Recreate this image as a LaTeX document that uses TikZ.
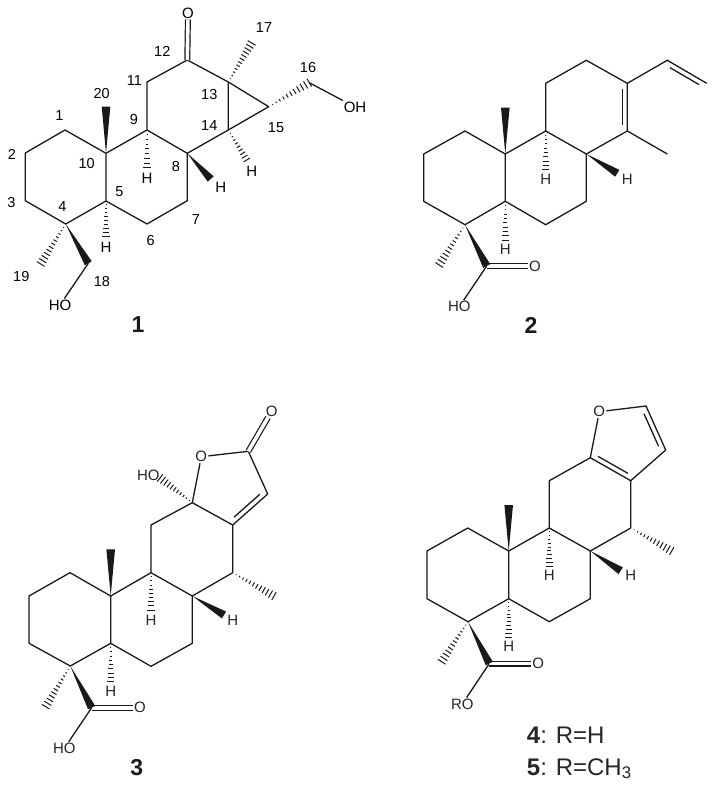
\documentclass[tikz,border=0pt]{standalone}
\usepackage{fontspec}
\setmainfont{Liberation Sans}
\usetikzlibrary{calc, positioning}

% solid and hashed stereo bonds, from atom #1 to atom #2 with half width #3
\newcommand{\wedgebond}[3]{%
    \fill[black!90] (#1) -- ($(#2)!#3 pt!90:(#1)$) -- ($(#2)!#3 pt!-90:(#1)$) -- cycle;}
\newcommand{\hashbond}[4]{%
    \path ($(#2)!#3 pt!90:(#1)$) coordinate (hl) ($(#2)!#3 pt!-90:(#1)$) coordinate (hr);
    \foreach \i in {1,...,#4} {
        \pgfmathsetmacro{\t}{\i/#4}
        \draw[hash] ($(#1)!\t!(hl)$) -- ($(#1)!\t!(hr)$);
    }}
% shorter second line of a ring double bond, #3 is the side (90 or -90)
\newcommand{\innerbond}[3]{%
    \draw[bond] ($(#1)!0.13!(#2)!5pt!#3:(#2)$) -- ($(#2)!0.13!(#1)!5pt!-#3:(#1)$);}

\begin{document}
\begin{tikzpicture}[x=1pt, y=-1pt]

    % Define styles for the bonds and the labels
    \tikzstyle{bond} = [draw=black!90, line width=1.3pt, line join=round]
    \tikzstyle{hash} = [draw=black!90, line width=1pt]
    \tikzstyle{dbl} = [draw=black!90, line width=1.2pt, double, double distance=3.6pt]
    \tikzstyle{atom} = [inner sep=1pt, font=\fontsize{15}{15}\selectfont, text=black!85]
    \tikzstyle{num} = [inner sep=0pt, font=\fontsize{14.5}{15}\selectfont, text=black]
    \tikzstyle{title} = [inner sep=0pt, font=\fontsize{23}{23}\selectfont\bfseries, text=black!90]
    \tikzstyle{legend} = [inner sep=0pt, anchor=base west, font=\fontsize{24}{24}\selectfont, text=black!85]

    \useasboundingbox (0,0) rectangle (714,786);

    % compound 1
    \coordinate (ac1) at (65,130);
    \coordinate (ac2) at (25.3,153);
    \coordinate (ac3) at (25.3,200.7);
    \coordinate (ac4) at (65.7,224);
    \coordinate (ac5) at (106,201);
    \coordinate (ac6) at (147,224);
    \coordinate (ac7) at (187.3,200.7);
    \coordinate (ac8) at (187.3,153.3);
    \coordinate (ac9) at (147,130);
    \coordinate (ac10) at (106,153.3);
    \coordinate (ac11) at (147,82);
    \coordinate (ac12) at (187.3,60);
    \coordinate (ac13) at (228.3,82);
    \coordinate (ac14) at (228.3,130);
    \coordinate (ac15) at (268.7,106.7);
    \coordinate (ac16) at (309.3,82.7);
    \coordinate (ac17) at (251.7,43);
    \coordinate (ac18) at (88.3,263.3);
    \coordinate (ac19) at (40.7,264);
    \coordinate (ac20) at (106,106.7);
    \coordinate (ah5) at (106,236);
    \coordinate (ah8) at (210.7,179);
    \coordinate (ah9) at (147,168);
    \coordinate (ah14) at (246.7,160);

    \node (ao) [atom, text=black] at (188,13) {O};
    \node (aoh) [atom, text=black] at (355,107) {OH};
    \node (aho) [atom, text=black] at (60,305) {HO};
    \node (ahl5) [atom, text=black] at (106,247) {H};
    \node (ahl8) [atom, text=black] at (220.7,187) {H};
    \node (ahl9) [atom, text=black] at (147,178) {H};
    \node (ahl14) [atom, text=black] at (251.7,171) {H};
    \node (atitle) [title] at (138,325) {1};

    \node (an1) [num] at (59.3,115.7) {1};
    \node (an2) [num] at (12,154) {2};
    \node (an3) [num] at (11.3,202.7) {3};
    \node (an4) [num] at (62.3,206.7) {4};
    \node (an5) [num] at (119.3,191.7) {5};
    \node (an6) [num] at (150.7,240.7) {6};
    \node (an7) [num] at (196,220) {7};
    \node (an8) [num] at (176,166.7) {8};
    \node (an9) [num] at (134,120) {9};
    \node (an10) [num] at (86.7,163.3) {10};
    \node (an11) [num] at (134.3,80.7) {11};
    \node (an12) [num] at (162.3,51.7) {12};
    \node (an13) [num] at (209.3,94.3) {13};
    \node (an14) [num] at (209.3,126) {14};
    \node (an15) [num] at (276,127.7) {15};
    \node (an16) [num] at (308,67.3) {16};
    \node (an17) [num] at (264,27.3) {17};
    \node (an18) [num] at (102,281.7) {18};
    \node (an19) [num] at (21.3,276.7) {19};
    \node (an20) [num] at (101.7,93.3) {20};

    \draw[bond] (ac10) -- (ac1) -- (ac2) -- (ac3) -- (ac4) -- (ac5) -- (ac6) -- (ac7) -- (ac8) -- (ac9) -- (ac10) -- (ac5);
    \draw[bond] (ac9) -- (ac11) -- (ac12) -- (ac13) -- (ac14) -- (ac8);
    \draw[bond] (ac13) -- (ac15) -- (ac14);
    \draw[bond] (ac16) -- (aoh);
    \draw[bond] (ac18) -- (aho);
    \draw[dbl] (ac12) -- (ao);
    \wedgebond{ac10}{ac20}{4.3}
    \wedgebond{ac8}{ah8}{4}
    \wedgebond{ac4}{ac18}{4}
    \hashbond{ac13}{ac17}{4.5}{12}
    \hashbond{ac15}{ac16}{4.5}{11}
    \hashbond{ac4}{ac19}{4.5}{12}
    \hashbond{ac9}{ah9}{3.6}{8}
    \hashbond{ac5}{ah5}{3.6}{9}
    \hashbond{ac14}{ah14}{3.6}{9}

    % compound 2
    \coordinate (bc1) at (465,131);
    \coordinate (bc2) at (423.7,154);
    \coordinate (bc3) at (423.7,201.3);
    \coordinate (bc4) at (465,224.7);
    \coordinate (bc5) at (505.3,201.3);
    \coordinate (bc6) at (545.7,224.7);
    \coordinate (bc7) at (586.3,201.3);
    \coordinate (bc8) at (586.3,154);
    \coordinate (bc9) at (545.7,131);
    \coordinate (bc10) at (505.3,154);
    \coordinate (bc11) at (545.7,83.3);
    \coordinate (bc12) at (586.3,60.3);
    \coordinate (bc13) at (627.3,83.3);
    \coordinate (bc14) at (627.3,131);
    \coordinate (bc15) at (667.3,60.3);
    \coordinate (bc16) at (706.7,83.3);
    \coordinate (bc17) at (667.3,154);
    \coordinate (bc18) at (486.7,266);
    \coordinate (bc19) at (439.3,265);
    \coordinate (bc20) at (505.3,107.7);
    \coordinate (bh5) at (505.3,240);
    \coordinate (bh8) at (617.3,173.3);
    \coordinate (bh9) at (545.7,170);

    \node (bo) [atom] at (535,266) {O};
    \node (bho) [atom] at (459.3,306.7) {HO};
    \node (bhl5) [atom] at (505.3,249.3) {H};
    \node (bhl8) [atom] at (627.3,179) {H};
    \node (bhl9) [atom] at (545.7,179) {H};
    \node (btitle) [title] at (531,325) {2};

    \draw[bond] (bc10) -- (bc1) -- (bc2) -- (bc3) -- (bc4) -- (bc5) -- (bc6) -- (bc7) -- (bc8) -- (bc9) -- (bc10) -- (bc5);
    \draw[bond] (bc9) -- (bc11) -- (bc12) -- (bc13) -- (bc14) -- (bc8);
    \draw[bond] (bc13) -- (bc15) -- (bc16);
    \draw[bond] (bc14) -- (bc17);
    \draw[bond] (bc18) -- (bho);
    \innerbond{bc13}{bc14}{-90}
    \innerbond{bc15}{bc16}{-90}
    \draw[dbl] (bc18) -- (bo);
    \wedgebond{bc10}{bc20}{4.3}
    \wedgebond{bc8}{bh8}{4}
    \wedgebond{bc4}{bc18}{4}
    \hashbond{bc4}{bc19}{4.5}{12}
    \hashbond{bc9}{bh9}{3.6}{9}
    \hashbond{bc5}{bh5}{3.6}{9}

    % compound 3
    \coordinate (cc1) at (70,572.7);
    \coordinate (cc2) at (29,596);
    \coordinate (cc3) at (29,643.3);
    \coordinate (cc4) at (70.3,666);
    \coordinate (cc5) at (110.7,643.3);
    \coordinate (cc6) at (151,666.3);
    \coordinate (cc7) at (192.3,643.3);
    \coordinate (cc8) at (192.3,596);
    \coordinate (cc9) at (151,572.7);
    \coordinate (cc10) at (110.7,596);
    \coordinate (cc11) at (151,525);
    \coordinate (cc12) at (192.3,502.7);
    \coordinate (cc13) at (232.7,525);
    \coordinate (cc14) at (232.7,572.7);
    \coordinate (cc15) at (267.7,494);
    \coordinate (cc16) at (248.3,451.3);
    \coordinate (cc17) at (274,596);
    \coordinate (cc18) at (91.7,707.7);
    \coordinate (cc19) at (45.7,706.7);
    \coordinate (cc20) at (110.7,549.3);
    \coordinate (choe) at (160,478);
    \coordinate (ch5) at (110.7,681.7);
    \coordinate (ch8) at (224,615);
    \coordinate (ch9) at (151,610);

    \node (cor) [atom] at (201.3,456.7) {O};
    \node (co) [atom] at (271.7,411) {O};
    \node (chot) [atom] at (148.3,475) {HO};
    \node (co2) [atom] at (140,707.7) {O};
    \node (cho) [atom] at (64.3,748.3) {HO};
    \node (chl5) [atom] at (110.7,691) {H};
    \node (chl8) [atom] at (232.7,620) {H};
    \node (chl9) [atom] at (151,620) {H};
    \node (ctitle) [title] at (136.7,767.3) {3};

    \draw[bond] (cc10) -- (cc1) -- (cc2) -- (cc3) -- (cc4) -- (cc5) -- (cc6) -- (cc7) -- (cc8) -- (cc9) -- (cc10) -- (cc5);
    \draw[bond] (cc9) -- (cc11) -- (cc12) -- (cc13) -- (cc14) -- (cc8);
    \draw[bond] (cc13) -- (cc15) -- (cc16) -- (cor) -- (cc12);
    \draw[bond] (cc18) -- (cho);
    \innerbond{cc13}{cc15}{90}
    \draw[dbl] (cc16) -- (co);
    \draw[dbl] (cc18) -- (co2);
    \wedgebond{cc10}{cc20}{4.3}
    \wedgebond{cc8}{ch8}{4}
    \wedgebond{cc4}{cc18}{4}
    \hashbond{cc12}{choe}{4.5}{11}
    \hashbond{cc14}{cc17}{4.5}{12}
    \hashbond{cc4}{cc19}{4.5}{12}
    \hashbond{cc9}{ch9}{3.6}{9}
    \hashbond{cc5}{ch5}{3.6}{9}

    % compounds 4 and 5
    \coordinate (dc1) at (467.7,528);
    \coordinate (dc2) at (427,551);
    \coordinate (dc3) at (427,598.7);
    \coordinate (dc4) at (468,621.7);
    \coordinate (dc5) at (508.7,598.7);
    \coordinate (dc6) at (549.3,621.7);
    \coordinate (dc7) at (590.3,598.7);
    \coordinate (dc8) at (590.3,551);
    \coordinate (dc9) at (549.3,528);
    \coordinate (dc10) at (508.7,551);
    \coordinate (dc11) at (549.3,480.7);
    \coordinate (dc12) at (590.3,457.7);
    \coordinate (dc13) at (630.7,480.7);
    \coordinate (dc14) at (630.7,528);
    \coordinate (dc15) at (665.7,450);
    \coordinate (dc16) at (646,406);
    \coordinate (dc17) at (671.7,551);
    \coordinate (dc18) at (489.3,663.5);
    \coordinate (dc19) at (441.7,661.7);
    \coordinate (dc20) at (508.7,505);
    \coordinate (dh5) at (508.7,637);
    \coordinate (dh8) at (620.7,570.7);
    \coordinate (dh9) at (549.3,566);

    \node (dor) [atom] at (599.3,411.7) {O};
    \node (do) [atom] at (538.3,663.5) {O};
    \node (dro) [atom] at (462.3,704) {RO};
    \node (dhl5) [atom] at (508.7,646.7) {H};
    \node (dhl8) [atom] at (630.7,575.7) {H};
    \node (dhl9) [atom] at (549.3,575.7) {H};
    \node (dtitle) [legend] at (526.7,743) {\textbf{4}: R=H};
    \node (etitle) [legend] at (526.7,775) {\textbf{5}: R=CH\textsubscript{3}};

    \draw[bond] (dc10) -- (dc1) -- (dc2) -- (dc3) -- (dc4) -- (dc5) -- (dc6) -- (dc7) -- (dc8) -- (dc9) -- (dc10) -- (dc5);
    \draw[bond] (dc9) -- (dc11) -- (dc12) -- (dc13) -- (dc14) -- (dc8);
    \draw[bond] (dc13) -- (dc15) -- (dc16) -- (dor) -- (dc12);
    \draw[bond] (dc18) -- (dro);
    \innerbond{dc12}{dc13}{90}
    \innerbond{dc16}{dc15}{-90}
    \draw[dbl] (dc18) -- (do);
    \wedgebond{dc10}{dc20}{4.3}
    \wedgebond{dc8}{dh8}{4}
    \wedgebond{dc4}{dc18}{4}
    \hashbond{dc14}{dc17}{4.5}{12}
    \hashbond{dc4}{dc19}{4.5}{12}
    \hashbond{dc9}{dh9}{3.6}{10}
    \hashbond{dc5}{dh5}{3.6}{10}

\end{tikzpicture}
\end{document}
